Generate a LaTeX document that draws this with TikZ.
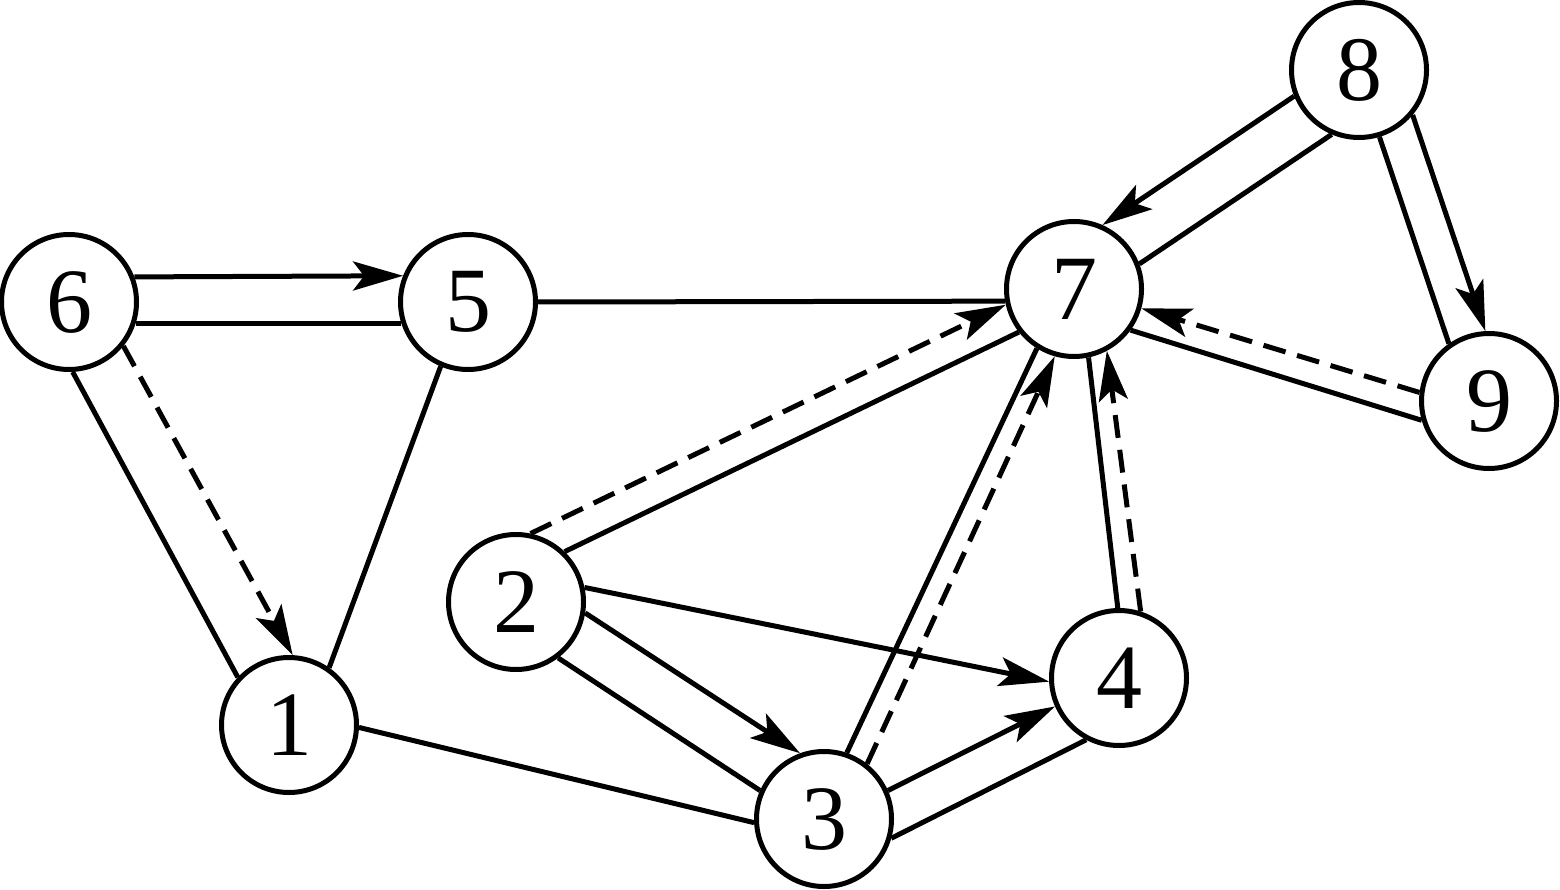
\documentclass[tikz,border=0pt]{standalone}
\usepackage{fontspec}
\setmainfont{Liberation Serif}
\usetikzlibrary{arrows.meta}
\begin{document}
\begin{tikzpicture}[x=1pt,y=-1pt,
  vtx/.style={circle,draw,fill=white,line width=5pt,minimum size=135pt,inner sep=0pt,font=\fontsize{92}{92}\selectfont},
  plain/.style={line width=5pt},
  arr/.style={line width=5pt,-{Stealth[length=50pt,width=29pt,inset=11pt]}},
  dsh/.style={arr,dash pattern=on 23pt off 12pt}]
\useasboundingbox (0,0) rectangle (1560,890);
\node[vtx] (n6) at (69,302) {6};
\node[vtx] (n5) at (468,302) {5};
\node[vtx] (n1) at (289,725) {1};
\node[vtx] (n2) at (516,602) {2};
\node[vtx] (n3) at (824,819) {3};
\node[vtx] (n4) at (1119,678) {4};
\node[vtx] (n7) at (1074,289) {7};
\node[vtx] (n8) at (1359,70) {8};
\node[vtx] (n9) at (1489,401) {9};
% 6 - 5
\draw[arr] (n6.21) -- (n5.158);
\draw[plain] (n6.-18) -- (n5.198);
% 6 - 1
\draw[dsh] (n6.-39) -- (n1.87);
\draw[plain] (n6.-87) -- (n1.137);
% 5 - 1, 5 - 7, 1 - 3
\draw[plain] (n5.247) -- (n1.55);
\draw[plain] (n5.0) -- (n7.190);
\draw[plain] (n1.-2) -- (n3.183);
% 2 - 7
\draw[dsh] (n2.78) -- (n7.193);
\draw[plain] (n2.46) -- (n7.218);
% 2 - 4
\draw[arr] (n2.12) -- (n4.183);
% 2 - 3
\draw[arr] (n2.-9) -- (n3.110);
\draw[plain] (n2.-53) -- (n3.156);
% 3 - 7
\draw[dsh] (n3.52) -- (n7.254);
\draw[plain] (n3.71) -- (n7.238);
% 3 - 4
\draw[arr] (n3.24) -- (n4.204);
\draw[plain] (n3.-16) -- (n4.242);
% 4 - 7
\draw[dsh] (n4.72) -- (n7.-62);
\draw[plain] (n4.91) -- (n7.-78);
% 8 - 7
\draw[arr] (n8.202) -- (n7.66);
\draw[plain] (n8.247) -- (n7.21);
% 8 - 9
\draw[arr] (n8.-40) -- (n9.93);
\draw[plain] (n8.-73) -- (n9.125);
% 9 - 7
\draw[dsh] (n9.173) -- (n7.-16);
\draw[plain] (n9.196) -- (n7.-36);
\end{tikzpicture}
\end{document}
